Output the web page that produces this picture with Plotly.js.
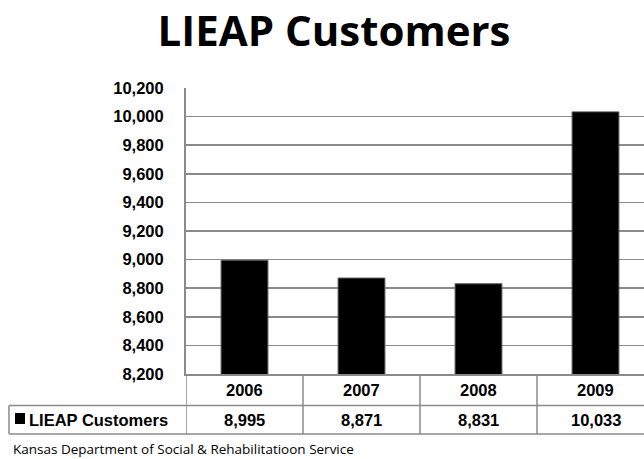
<!DOCTYPE html>
<html>
<head>
<meta charset="utf-8">
<script src="https://cdn.plot.ly/plotly-3.0.1.min.js"></script>
<style>
html,body{margin:0;padding:0;overflow:hidden;background:#fff;}
#chart{width:654px;height:459px;}
</style>
</head>
<body>
<div id="chart"></div>
<script>
const categories = ['2006', '2007', '2008', '2009'];
const seriesName = 'LIEAP Customers';
const values = [8995, 8871, 8831, 10033];
const valueLabels = ['8,995', '8,871', '8,831', '10,033'];
const titleText = 'LIEAP Customers';
const footerText = 'Kansas Department of Social &amp; Rehabilitatioon Service';

const W = 654, H = 459;
const L = 186, T = 88, B = 85;
const PW = W - L, PH = H - T - B;
const px2x = p => (p - L) / PW;
const py2y = p => (T + PH - p) / PH;

const tableFont = {family: 'Liberation Sans, Arial, sans-serif', size: 16.5, color: '#000', weight: 'bold'};
const gridCol = '#8a8a8a';

const yRow1 = py2y(390), yRow2 = py2y(420);
const yDiv = py2y(405.5), yBot = py2y(434);
const xLeg = px2x(9);

const annotations = [];
categories.forEach((c, i) => {
  annotations.push({x: i, xref: 'x', y: yRow1, yref: 'paper', text: '<b>' + c + '</b>', showarrow: false, font: tableFont, xanchor: 'center', yanchor: 'middle'});
  annotations.push({x: i, xref: 'x', y: yRow2, yref: 'paper', text: '<b>' + valueLabels[i] + '</b>', showarrow: false, font: tableFont, xanchor: 'center', yanchor: 'middle'});
});
annotations.push({x: px2x(27), xref: 'paper', y: yRow2, yref: 'paper', text: '<b>' + seriesName + '</b>', showarrow: false, font: tableFont, xanchor: 'left', yanchor: 'middle'});
annotations.push({x: px2x(11), xref: 'paper', y: py2y(448.5), yref: 'paper', text: footerText, showarrow: false, font: {family: 'Open Sans, Lato, sans-serif', size: 13.5, color: '#000'}, xanchor: 'left', yanchor: 'middle'});

const shapes = [];
const ln = {color: gridCol, width: 1.5};
[-0.5, 0.5, 1.5, 2.5, 3.5].forEach(xv => {
  shapes.push({type: 'line', xref: 'x', yref: 'paper', x0: xv, x1: xv, y0: 0, y1: yBot, line: ln});
});
shapes.push({type: 'line', xref: 'paper', yref: 'paper', x0: xLeg, x1: 1.02, y0: yDiv, y1: yDiv, line: ln});
shapes.push({type: 'line', xref: 'paper', yref: 'paper', x0: xLeg, x1: 1.02, y0: yBot, y1: yBot, line: ln});
shapes.push({type: 'line', xref: 'paper', yref: 'paper', x0: xLeg, x1: xLeg, y0: yDiv, y1: yBot, line: ln});
shapes.push({type: 'rect', xref: 'paper', yref: 'paper', x0: px2x(15), x1: px2x(25), y0: py2y(424), y1: py2y(413), fillcolor: '#000', line: {width: 0}});

const data = [{
  type: 'bar',
  x: categories,
  y: values,
  name: seriesName,
  marker: {color: '#000', line: {color: '#555', width: 1}},
  hoverinfo: 'none'
}];

const layout = {
  width: W, height: H,
  margin: {l: L, r: 0, t: T, b: B, pad: 0},
  paper_bgcolor: '#fff', plot_bgcolor: '#fff',
  showlegend: false,
  bargap: 0.6,
  title: {text: '<b>' + titleText + '</b>', font: {family: 'Open Sans, Lato, sans-serif', size: 42, color: '#000'}, x: 334 / W, xanchor: 'center', y: 1 - 31 / H, yanchor: 'middle', yref: 'container'},
  xaxis: {
    type: 'category', range: [-0.5, 3.5], showticklabels: false, showgrid: false, zeroline: false,
    showline: true, linecolor: gridCol, linewidth: 1.5, ticks: '', fixedrange: true
  },
  yaxis: {
    range: [8200, 10200], dtick: 200, tick0: 8200, tickformat: ',d',
    showgrid: true, gridcolor: gridCol, gridwidth: 1.5, zeroline: false,
    showline: true, linecolor: gridCol, linewidth: 2,
    ticks: 'outside', ticklen: 17, tickcolor: 'rgba(0,0,0,0)',
    tickfont: {family: 'Liberation Sans, Arial, sans-serif', size: 16.5, color: '#000', weight: 'bold'},
    fixedrange: true
  },
  shapes: shapes,
  annotations: annotations
};

Plotly.newPlot('chart', data, layout, {displayModeBar: false, staticPlot: true});
</script>
</body>
</html>
